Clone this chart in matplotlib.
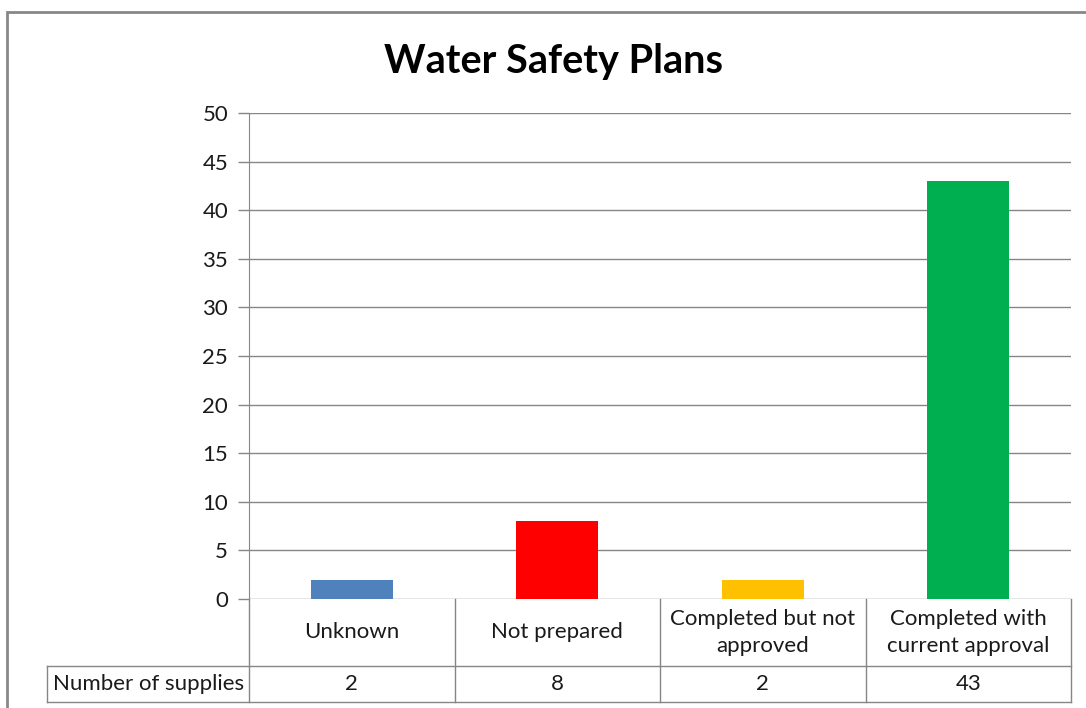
import numpy as np
import matplotlib
matplotlib.use("Agg")
import matplotlib.pyplot as plt
from matplotlib.lines import Line2D
from matplotlib.patches import Rectangle

categories = ["Unknown", "Not prepared", "Completed but not\napproved", "Completed with\ncurrent approval"]
values = [2, 8, 2, 43]
colors = ["#4F81BD", "#FF0000", "#FFC000", "#00B050"]
row_label = "Number of supplies"

W, H = 1086, 708
plt.rcParams['font.family'] = ['Lato', 'DejaVu Sans']
fig = plt.figure(figsize=(W / 100, H / 100), dpi=100)

def fx(px):
    return px / W

def fy(py):
    return 1 - py / H

# plot area in pixels
left, right, top, bottom = 249, 1071, 113, 599
ax = fig.add_axes([fx(left), fy(bottom), fx(right - left), fy(top) - fy(bottom)])

x = np.arange(len(categories))
ax.bar(x, values, width=0.4, color=colors, zorder=3)
ax.set_xlim(-0.5, len(categories) - 0.5)
ax.set_ylim(0, 50)
ax.set_yticks(np.arange(0, 51, 5))
ax.yaxis.grid(True, color="#868686", lw=1, zorder=0)
ax.set_xticks([])
for s in ["top", "right", "bottom"]:
    ax.spines[s].set_visible(False)
ax.spines["left"].set_color("#868686")
ax.tick_params(axis="y", length=8, width=1, color="#868686", labelsize=16, pad=7, labelcolor="#1a1a1a")

# title
fig.text(fx(553), fy(61), "Water Safety Plans", ha="center", va="center",
         fontsize=28.5, fontweight="bold")

# data table below the axis
c = "#868686"
row1_bot, row2_bot = 666, 702
col_w = (right - left) / len(categories)
edges = [left + i * col_w for i in range(len(categories) + 1)]
lines = []
for e in edges:
    lines.append(([e, e], [bottom, row2_bot]))
lines.append(([47, right], [row1_bot, row1_bot]))
lines.append(([47, right], [row2_bot, row2_bot]))
lines.append(([47, 47], [row1_bot, row2_bot]))
for xs, ys in lines:
    fig.add_artist(Line2D([fx(v) for v in xs], [fy(v) for v in ys], color=c, lw=1))

for i, cat in enumerate(categories):
    cx = (edges[i] + edges[i + 1]) / 2
    fig.text(fx(cx), fy((bottom + row1_bot) / 2), cat, ha="center", va="center",
             fontsize=16, color="#1a1a1a", linespacing=1.45)
    fig.text(fx(cx), fy((row1_bot + row2_bot) / 2), str(values[i]), ha="center", va="center",
             fontsize=16, color="#1a1a1a")
fig.text(fx(53), fy((row1_bot + row2_bot) / 2), row_label, ha="left", va="center",
         fontsize=16, color="#1a1a1a")

# outer chart border
fig.add_artist(Rectangle((fx(7), fy(H + 20)), fx(W + 20), fy(12) - fy(H + 20),
                         fill=False, edgecolor="#888888", lw=2))

fig.savefig("out.png", dpi=100)
